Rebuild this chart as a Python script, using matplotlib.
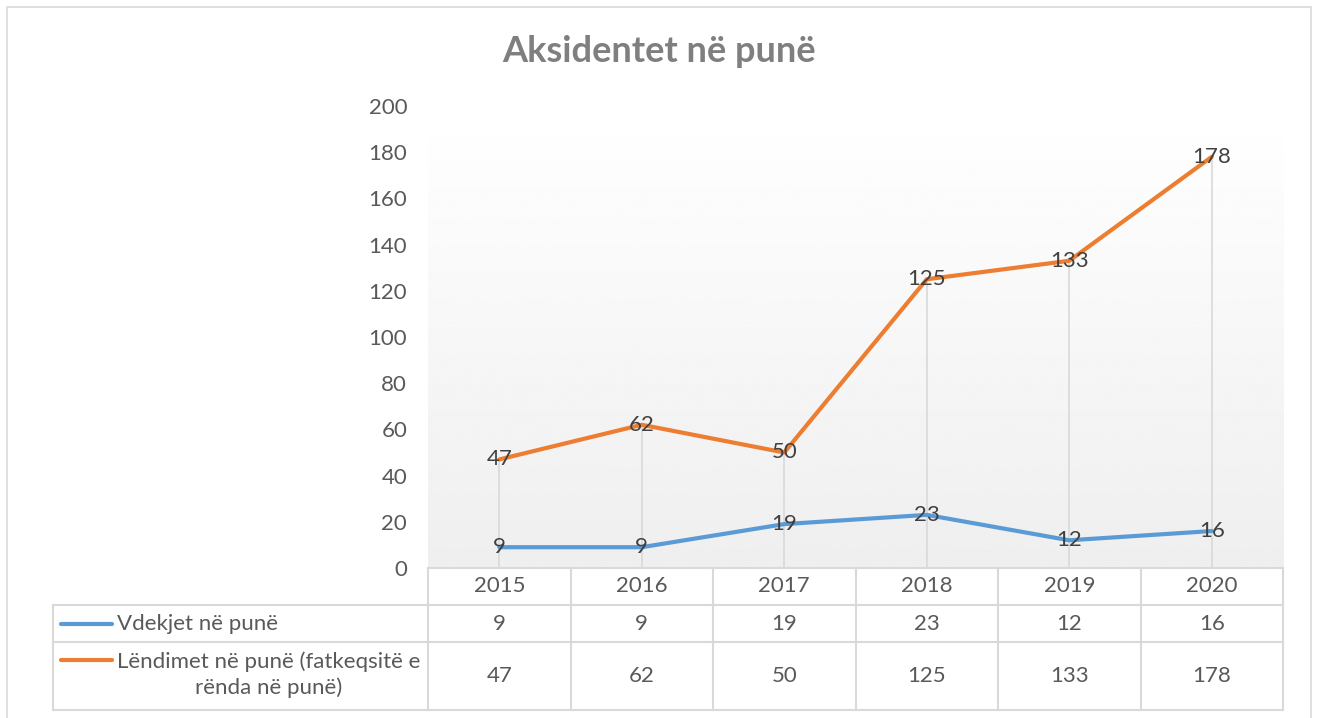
import matplotlib
matplotlib.use("Agg")
import matplotlib.pyplot as plt
import matplotlib.patches as mpatches
from matplotlib.transforms import blended_transform_factory
import numpy as np

plt.rcParams['font.family'] = ['Lato', 'DejaVu Sans']

years = ['2015', '2016', '2017', '2018', '2019', '2020']
vdekjet = [9, 9, 19, 23, 12, 16]
lendimet = [47, 62, 50, 125, 133, 178]
series_names = ['Vdekjet në punë', 'Lëndimet në punë (fatkeqsitë e\nrënda në punë)']
series_colors = ['#5b9bd5', '#ed7d31']
yticks = list(range(0, 201, 20))

W, H = 1317, 718
GRID = '#d9d9d9'
TXT = '#595959'
FS = 16


def fx(px):
    return px / W


def fy(py):
    return 1 - py / H


fig = plt.figure(figsize=(W / 100, H / 100), dpi=100)

# chart frame
fig.patches.append(mpatches.Rectangle((fx(7), fy(730)), fx(1311 - 7), (730 - 7) / H,
                                      transform=fig.transFigure, fill=False,
                                      edgecolor=GRID, lw=1.2))

ax = fig.add_axes([fx(428), fy(568), fx(1283 - 428), (568 - 106) / H])
x = np.arange(len(years))
ax.set_xlim(-0.5, len(years) - 0.5)
ax.set_ylim(0, 200)

# plot area gradient, white at top to light grey at bottom
grad = np.linspace(1.0, 0.935, 256).reshape(-1, 1)
ax.imshow(grad, extent=(-0.5, len(years) - 0.5, 0, 200), aspect='auto',
          cmap='gray', vmin=0, vmax=1, zorder=0, interpolation='bilinear')

# drop lines
ax.vlines(x, 0, np.maximum(vdekjet, lendimet), color=GRID, lw=1.2, zorder=1)

for vals, c in zip([vdekjet, lendimet], series_colors):
    ax.plot(x, vals, color=c, lw=3.0, solid_capstyle='round', zorder=3)
    for xi, v in zip(x, vals):
        ax.text(xi, v, str(v), ha='center', va='center', fontsize=FS,
                color='#404040', zorder=4)

ax.set_yticks(yticks)
ax.set_xticks([])
ax.tick_params(axis='y', length=0, pad=15, labelsize=FS, labelcolor=TXT)
for s in ['top', 'right', 'left']:
    ax.spines[s].set_visible(False)
ax.spines['bottom'].set_color(GRID)
ax.spines['bottom'].set_linewidth(1.5)

# data table below the axis
tr = blended_transform_factory(ax.transData, fig.transFigure)
rows_y = [568, 605, 642, 710]
edges = np.arange(len(years) + 1) - 0.5
line_kw = dict(color=GRID, lw=1.5, clip_on=False)

for e in edges:
    ax.plot([e, e], [fy(568), fy(710)], transform=tr, **line_kw)
for ry in rows_y[1:]:
    ax.plot([edges[0], edges[-1]], [fy(ry), fy(ry)], transform=tr, **line_kw)
    fig.add_artist(plt.Line2D([fx(53), fx(428)], [fy(ry), fy(ry)], **line_kw))
fig.add_artist(plt.Line2D([fx(53), fx(53)], [fy(605), fy(710)], **line_kw))

for xi, yr in zip(x, years):
    ax.text(xi, fy(586.5), yr, transform=tr, ha='center', va='center',
            fontsize=FS, color=TXT)
for r, vals in enumerate([vdekjet, lendimet]):
    cy = (rows_y[r + 1] + rows_y[r + 2]) / 2
    for xi, v in zip(x, vals):
        ax.text(xi, fy(cy), str(v), transform=tr, ha='center', va='center',
                fontsize=FS, color=TXT)

# row headers with legend keys
key_y = [623.5, 660]
for name, c, ky in zip(series_names, series_colors, key_y):
    fig.add_artist(plt.Line2D([fx(61), fx(112)], [fy(ky), fy(ky)], color=c,
                              lw=3.0, solid_capstyle='round'))
fig.text(fx(117), fy(623.5), series_names[0], ha='left', va='center',
         fontsize=FS, color=TXT)
fig.text(fx(269), fy(675), series_names[1], ha='center', va='center',
         multialignment='center', fontsize=FS, color=TXT, linespacing=1.35)

fig.text(fx(659), fy(52), 'Aksidentet në punë', ha='center', va='center',
         fontsize=26, fontweight='bold', color='#7f7f7f')

fig.savefig('out.png', dpi=100)
